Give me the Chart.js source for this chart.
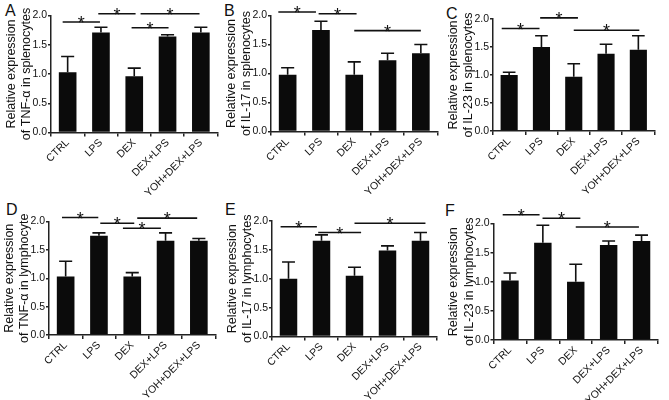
<!DOCTYPE html>
<html>
<head>
<meta charset="utf-8">
<script src="https://cdn.jsdelivr.net/npm/chart.js@4/dist/chart.umd.min.js"></script>
<style>
    body { margin: 0; background: #fff; }
    #wrap { position: relative; width: 669px; height: 400px; overflow: hidden; }
    canvas { position: absolute; }
    .letter { position: absolute; font: 16px 'Liberation Sans', Arial, sans-serif; color: #111; }
</style>
</head>
<body>
<div id="wrap">
    <div class="letter" style="left:5px;top:2px">A</div>
    <div class="letter" style="left:224px;top:2px">B</div>
    <div class="letter" style="left:446px;top:5px">C</div>
    <div class="letter" style="left:6px;top:201px">D</div>
    <div class="letter" style="left:225px;top:201px">E</div>
    <div class="letter" style="left:445px;top:202px">F</div>
</div>
<script>
const groups = ['CTRL', 'LPS', 'DEX', 'DEX+LPS', 'YOH+DEX+LPS'];
const y_ticks = [0, 0.5, 1.0, 1.5, 2.0];

// mean values and upper error (SEM) for each panel
const mean_a = [1.03, 1.71, 0.96, 1.64, 1.71];
const err_a = [0.27, 0.09, 0.14, 0.03, 0.09];
const mean_b = [0.98, 1.75, 0.98, 1.23, 1.35];
const err_b = [0.12, 0.15, 0.22, 0.12, 0.15];
const mean_c = [1.00, 1.50, 0.97, 1.38, 1.45];
const err_c = [0.05, 0.20, 0.23, 0.17, 0.25];
const mean_d = [1.03, 1.75, 1.03, 1.66, 1.66];
const err_d = [0.27, 0.05, 0.07, 0.14, 0.04];
const mean_e = [1.00, 1.66, 1.05, 1.49, 1.66];
const err_e = [0.29, 0.10, 0.15, 0.08, 0.14];
const mean_f = [1.02, 1.67, 1.00, 1.63, 1.70];
const err_f = [0.13, 0.30, 0.30, 0.07, 0.10];

// significance brackets: [from group, to group, height]
const sig_a = [[-0.15, 0.97, 1.89], [0.92, 2.04, 2.03], [2.19, 3.96, 2.03], [1.92, 3.03, 1.79]];
const sig_b = [[-0.28, 0.85, 2.06], [0.93, 2.07, 2.03], [2.0, 4.0, 1.74]];
const sig_c = [[-0.23, 0.94, 1.83], [0.96, 2.13, 2.02], [2.0, 4.03, 1.80]];
const sig_d = [[-0.11, 0.98, 2.07], [1.04, 2.06, 1.97], [2.15, 3.95, 2.06], [1.72, 2.86, 1.88]];
const sig_e = [[-0.24, 0.86, 1.90], [0.9, 2.2, 1.80], [2.0, 4.15, 1.96]];
const sig_f = [[-0.22, 0.9, 2.15], [0.99, 2.14, 2.09], [2.0, 3.92, 1.94]];

const titles = [
    ['Relative expression', 'of TNF-\u03b1 in splenocytes'],
    ['Relative expression', 'of IL-17 in splenocytes'],
    ['Relative expression', 'of IL-23 in splenocytes'],
    ['Relative expression', 'of TNF-\u03b1 in lymphocyte'],
    ['Relative expression', 'of IL-17 in lymphocytes'],
    ['Relative expression', 'of IL-23 in lymphocytes']
];

Chart.defaults.font.family = "'Liberation Sans', Arial, sans-serif";
Chart.defaults.color = '#111';

var marks_plugin = {
    id: 'marks',
    afterDatasetsDraw: function(chart, args, opts) {
        var ctx = chart.ctx;
        var xs = chart.scales.x, ys = chart.scales.y;
        var meta = chart.getDatasetMeta(0);
        ctx.save();
        ctx.strokeStyle = '#111';
        ctx.lineWidth = 1.6;
        // error bars, upward only
        opts.err.forEach(function(e, i) {
            var bar = meta.data[i];
            var top = ys.getPixelForValue(opts.mean[i] + e);
            var half = bar.width * 0.37;
            ctx.beginPath();
            ctx.moveTo(bar.x, bar.y);
            ctx.lineTo(bar.x, top);
            ctx.moveTo(bar.x - half, top);
            ctx.lineTo(bar.x + half, top);
            ctx.stroke();
        });
        // significance lines and stars
        ctx.fillStyle = '#111';
        ctx.font = "18px 'Liberation Sans', Arial, sans-serif";
        ctx.textAlign = 'center';
        ctx.textBaseline = 'alphabetic';
        opts.sig.forEach(function(s) {
            var x0 = xs.getPixelForValue(s[0]);
            var x1 = xs.getPixelForValue(s[1]);
            var yy = ys.getPixelForValue(s[2]);
            ctx.beginPath();
            ctx.moveTo(x0, yy);
            ctx.lineTo(x1, yy);
            ctx.stroke();
            ctx.fillText('*', (x0 + x1) / 2, yy + 7);
        });
        ctx.restore();
    }
};

function create_panel(box, title, mean, err, sig) {
    var canvas = document.createElement('canvas');
    canvas.width = box.w;
    canvas.height = box.h;
    canvas.style.left = box.left + 'px';
    canvas.style.top = box.top + 'px';
    document.getElementById('wrap').appendChild(canvas);

    var line_h = 15.5;
    return new Chart(canvas, {
        type: 'bar',
        data: {
            labels: groups,
            datasets: [{
                data: mean,
                backgroundColor: '#0b0b0b',
                barPercentage: 0.53,
                categoryPercentage: 1.0
            }]
        },
        options: {
            responsive: false,
            animation: false,
            devicePixelRatio: 1,
            layout: {
                padding: {
                    left: 0,
                    top: box.y_top - box.top,
                    right: box.left + box.w - box.right,
                    bottom: 0
                }
            },
            plugins: {
                legend: { display: false },
                tooltip: { enabled: false },
                marks: { mean: mean, err: err, sig: sig }
            },
            scales: {
                x: {
                    grid: { drawOnChartArea: false, tickLength: 4, color: '#222', lineWidth: 1.5 },
                    border: { color: '#222', width: 1.5 },
                    ticks: { font: { size: 10.5 }, color: '#111', minRotation: 45, maxRotation: 45, autoSkip: false, padding: 0 },
                    afterFit: function(s) { s.height = box.top + box.h - box.y_bottom; }
                },
                y: {
                    min: 0,
                    max: 2.0,
                    afterBuildTicks: function(s) { s.ticks = y_ticks.map(function(v) { return { value: v }; }); },
                    grid: { drawOnChartArea: false, tickLength: 3, color: '#222', lineWidth: 1.5 },
                    border: { color: '#222', width: 1.5 },
                    ticks: {
                        font: { size: 10.5 }, color: '#111', padding: 1,
                        callback: function(v) { return Number(v).toFixed(1); }
                    },
                    title: {
                        display: true,
                        text: title,
                        font: { size: 12.5, lineHeight: line_h / 12.5 },
                        color: '#111',
                        padding: { top: box.axis_x - 39.5 - box.left - line_h / 2, bottom: 0 }
                    },
                    afterFit: function(s) { s.width = box.axis_x - box.left; }
                }
            }
        },
        plugins: [marks_plugin]
    });
}

var boxes = [
    { left: 0,   top: 0,   w: 222, h: 198, axis_x: 51,    y_top: 15.5,  y_bottom: 132.5, right: 217.5 },
    { left: 222, top: 0,   w: 222, h: 198, axis_x: 271,   y_top: 15.5,  y_bottom: 131.5, right: 437.5 },
    { left: 444, top: 0,   w: 225, h: 198, axis_x: 493,   y_top: 19,    y_bottom: 131,   right: 654.5 },
    { left: 0,   top: 198, w: 222, h: 202, axis_x: 49,    y_top: 221.5, y_bottom: 335,   right: 215.5 },
    { left: 222, top: 198, w: 222, h: 202, axis_x: 272,   y_top: 221,   y_bottom: 336.5, right: 437 },
    { left: 444, top: 198, w: 225, h: 202, axis_x: 493.5, y_top: 223.5, y_bottom: 340,   right: 658 }
];

create_panel(boxes[0], titles[0], mean_a, err_a, sig_a);
create_panel(boxes[1], titles[1], mean_b, err_b, sig_b);
create_panel(boxes[2], titles[2], mean_c, err_c, sig_c);
create_panel(boxes[3], titles[3], mean_d, err_d, sig_d);
create_panel(boxes[4], titles[4], mean_e, err_e, sig_e);
create_panel(boxes[5], titles[5], mean_f, err_f, sig_f);
</script>
</body>
</html>
